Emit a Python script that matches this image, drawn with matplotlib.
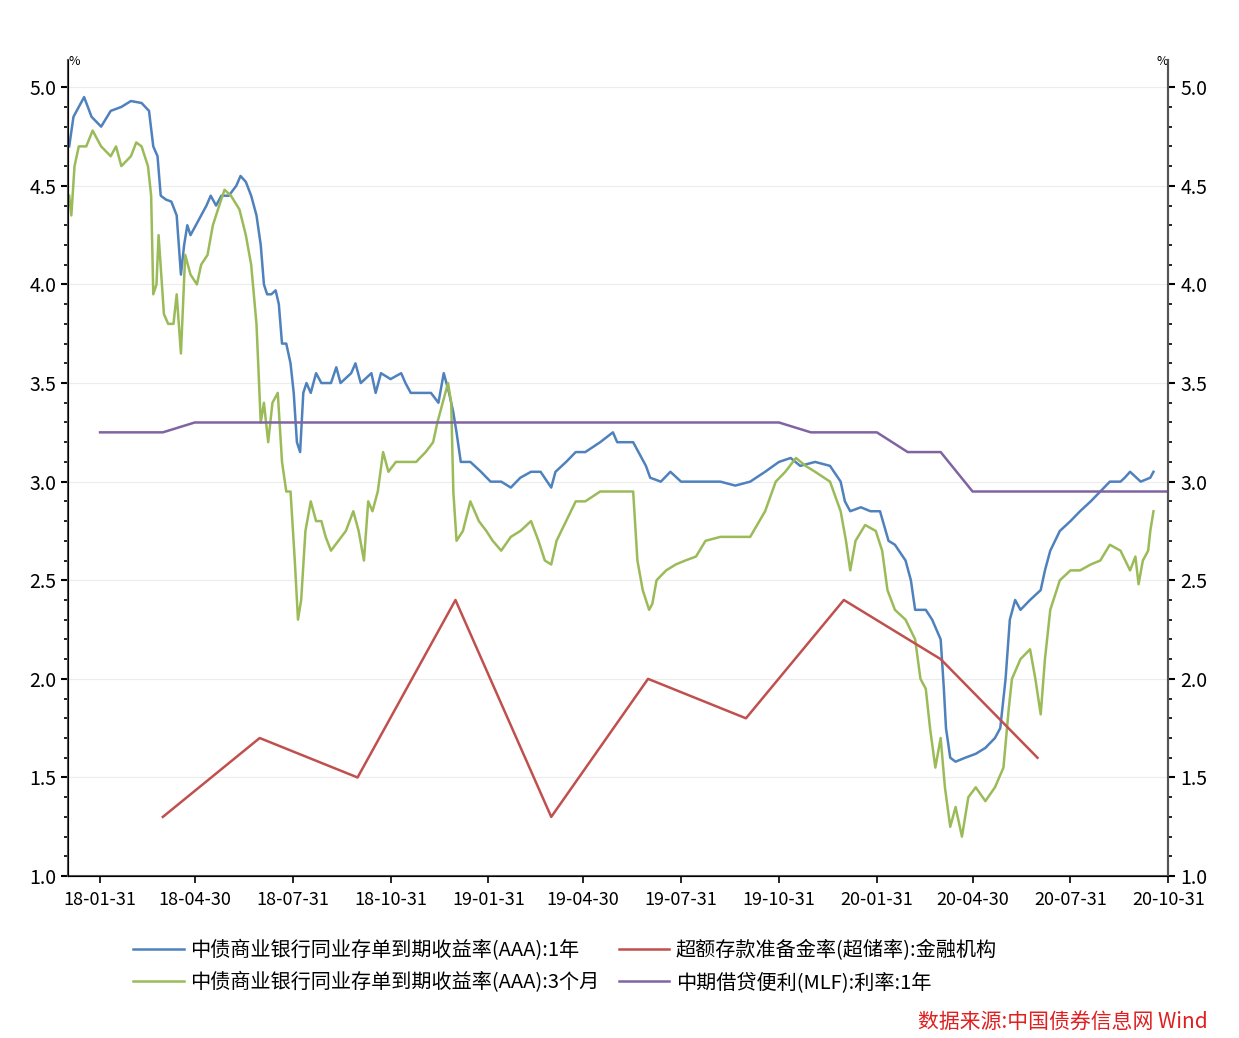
import matplotlib
matplotlib.use("Agg")
import matplotlib.pyplot as plt
import pandas as pd
import numpy as np

plt.rcParams['font.family'] = ['Noto Sans CJK SC', 'DejaVu Sans']

start = pd.Timestamp('2018-01-01')
blue_days = [1,5,10,15,22,31,40,50,59,69,76,80,84,87,92,97,102,106,109,112,115,120,125,130,134,139,144,151,158,162,167,172,177,181,184,187,191,195,198,201,205,209,212,215,218,221,224,228,233,238,247,252,256,266,270,275,285,289,294,303,313,317,322,331,341,348,353,358,362,365,369,378,388,397,407,416,425,435,444,454,458,468,477,486,500,512,516,524,531,536,543,547,557,566,576,594,613,627,641,655,668,679,688,702,716,726,730,735,745,754,763,771,777,787,792,796,806,812,820,823,825,829,834,843,853,862,871,876,881,885,890,895,904,914,918,923,932,942,951,961,970,979,989,993,998,1008,1017,1020]
blue_vals = [4.7,4.85,4.9,4.95,4.85,4.8,4.88,4.9,4.93,4.92,4.88,4.7,4.65,4.45,4.43,4.42,4.35,4.05,4.2,4.3,4.25,4.3,4.35,4.4,4.45,4.4,4.45,4.45,4.5,4.55,4.52,4.45,4.35,4.2,4.0,3.95,3.95,3.97,3.9,3.7,3.7,3.6,3.45,3.2,3.15,3.45,3.5,3.45,3.55,3.5,3.5,3.58,3.5,3.55,3.6,3.5,3.55,3.45,3.55,3.52,3.55,3.5,3.45,3.45,3.45,3.4,3.55,3.45,3.35,3.25,3.1,3.1,3.05,3.0,3.0,2.97,3.02,3.05,3.05,2.97,3.05,3.1,3.15,3.15,3.2,3.25,3.2,3.2,3.2,3.15,3.08,3.02,3.0,3.05,3.0,3.0,3.0,2.98,3.0,3.05,3.1,3.12,3.08,3.1,3.08,3.0,2.9,2.85,2.87,2.85,2.85,2.7,2.68,2.6,2.5,2.35,2.35,2.3,2.2,1.95,1.75,1.6,1.58,1.6,1.62,1.65,1.7,1.75,2.0,2.3,2.4,2.35,2.4,2.45,2.55,2.65,2.75,2.8,2.85,2.9,2.95,3.0,3.0,3.02,3.05,3.0,3.02,3.05]
green_days = [1,3,6,10,17,23,31,40,45,50,59,64,69,75,78,80,83,85,90,94,99,102,106,110,115,121,125,131,136,142,147,153,161,167,172,177,181,184,188,192,197,201,205,209,213,216,219,223,228,233,238,242,247,254,261,268,273,278,282,286,291,296,301,308,317,327,336,343,347,352,357,360,362,365,371,378,386,393,399,407,416,425,435,442,448,454,459,468,477,486,500,512,521,531,535,540,546,549,553,562,571,580,590,599,613,627,641,655,665,674,684,693,702,716,726,731,735,740,749,759,765,770,777,787,796,801,806,810,815,820,824,829,834,840,846,853,862,871,879,884,887,895,904,909,914,918,923,932,942,951,961,970,979,989,998,1003,1006,1010,1015,1017,1020]
green_vals = [4.45,4.35,4.6,4.7,4.7,4.78,4.7,4.65,4.7,4.6,4.65,4.72,4.7,4.6,4.45,3.95,4.0,4.25,3.85,3.8,3.8,3.95,3.65,4.15,4.05,4.0,4.1,4.15,4.3,4.4,4.48,4.45,4.38,4.25,4.1,3.8,3.3,3.4,3.2,3.4,3.45,3.1,2.95,2.95,2.6,2.3,2.4,2.75,2.9,2.8,2.8,2.72,2.65,2.7,2.75,2.85,2.75,2.6,2.9,2.85,2.95,3.15,3.05,3.1,3.1,3.1,3.15,3.2,3.3,3.4,3.5,3.4,2.95,2.7,2.75,2.9,2.8,2.75,2.7,2.65,2.72,2.75,2.8,2.7,2.6,2.58,2.7,2.8,2.9,2.9,2.95,2.95,2.95,2.95,2.6,2.45,2.35,2.38,2.5,2.55,2.58,2.6,2.62,2.7,2.72,2.72,2.72,2.85,3.0,3.05,3.12,3.08,3.05,3.0,2.85,2.7,2.55,2.7,2.78,2.75,2.65,2.45,2.35,2.3,2.2,2.0,1.95,1.75,1.55,1.7,1.45,1.25,1.35,1.2,1.4,1.45,1.38,1.45,1.55,1.85,2.0,2.1,2.15,2.0,1.82,2.1,2.35,2.5,2.55,2.55,2.58,2.6,2.68,2.65,2.55,2.62,2.48,2.6,2.65,2.75,2.85]
red_dates = ['2018-03-31','2018-06-30','2018-09-30','2018-12-31','2019-03-31','2019-06-30','2019-09-30','2019-12-31','2020-03-31','2020-06-30']
red_vals = [1.3,1.7,1.5,2.4,1.3,2.0,1.8,2.4,2.1,1.6]
mlf_dates = ['2018-01-31','2018-02-28','2018-03-31','2018-04-30','2018-06-30','2018-09-30','2018-12-31','2019-03-31','2019-06-30','2019-09-30','2019-10-31','2019-11-30','2019-12-31','2020-01-31','2020-02-29','2020-03-31','2020-04-30','2020-06-30','2020-08-31','2020-10-31']
mlf_vals = [3.25,3.25,3.25,3.30,3.30,3.30,3.30,3.30,3.30,3.30,3.30,3.25,3.25,3.25,3.15,3.15,2.95,2.95,2.95,2.95]

names = ['中债商业银行同业存单到期收益率(AAA):1年','超额存款准备金率(超储率):金融机构',
         '中债商业银行同业存单到期收益率(AAA):3个月','中期借贷便利(MLF):利率:1年']

fig = plt.figure(figsize=(12.39,10.38), dpi=100)
ax = fig.add_axes([0.055,0.156,0.888,0.786])
bd = [start+pd.Timedelta(days=d) for d in blue_days]
gd = [start+pd.Timedelta(days=d) for d in green_days]
l1, = ax.plot(bd, blue_vals, color='#4f81bd', lw=1.8)
l3, = ax.plot(gd, green_vals, color='#9bbb59', lw=1.8)
l2, = ax.plot(pd.to_datetime(red_dates), red_vals, color='#c0504d', lw=1.8)
l4, = ax.plot(pd.to_datetime(mlf_dates), mlf_vals, color='#8064a2', lw=1.8)

ax.set_xlim(pd.Timestamp('2018-01-01'), pd.Timestamp('2020-10-31'))
ax.set_ylim(1.0, 5.137)
ax.set_yticks(np.arange(1.0,5.01,0.5))
ax.set_yticks(np.arange(1.0,5.01,0.1), minor=True)
ax.yaxis.set_major_formatter(matplotlib.ticker.FormatStrFormatter('%.1f'))
ax.grid(axis='y', color='#ececec', lw=0.8)
xt = pd.to_datetime(['2018-01-31','2018-04-30','2018-07-31','2018-10-31','2019-01-31','2019-04-30','2019-07-31','2019-10-31','2020-01-31','2020-04-30','2020-07-31','2020-10-31'])
ax.set_xticks(xt)
ax.set_xticklabels([d.strftime('%y-%m-%d') for d in xt], fontsize=13)
ax.tick_params(axis='y', labelsize=14, length=5, width=1.5, direction='out')
ax.tick_params(axis='y', which='minor', length=3, width=1.2)
ax.tick_params(axis='x', length=5, width=1.2, pad=6)
ax.spines['top'].set_visible(False)
for s in ['left','right','bottom']:
    ax.spines[s].set_color('#555555'); ax.spines[s].set_linewidth(1.5)
ax2 = ax.twinx()
ax2.set_ylim(ax.get_ylim())
ax2.set_yticks(np.arange(1.0,5.01,0.5))
ax2.set_yticks(np.arange(1.0,5.01,0.1), minor=True)
ax2.yaxis.set_major_formatter(matplotlib.ticker.FormatStrFormatter('%.1f'))
ax2.tick_params(axis='y', labelsize=14, length=5, width=1.5)
ax2.tick_params(axis='y', which='minor', length=3, width=1.2)
ax2.spines['top'].set_visible(False)
ax2.spines['right'].set_color('#555555'); ax2.spines['right'].set_linewidth(1.5)
ax.text(0.0, 0.99, '%', transform=ax.transAxes, fontsize=9, ha='left', va='bottom')
ax.text(1.0, 0.99, '%', transform=ax.transAxes, fontsize=9, ha='right', va='bottom')

fig.legend([l1,l3,l2,l4], [names[0],names[2],names[1],names[3]], ncol=2, frameon=False,
           loc='upper left', bbox_to_anchor=(0.093,0.112), fontsize=14.5, handlelength=2.5,
           columnspacing=1.0, labelspacing=0.55, handletextpad=0.3)
fig.text(0.975, 0.005, '数据来源:中国债券信息网 Wind', color='#e02020', style='italic',
         fontsize=15, ha='right', va='bottom')
fig.savefig('out.png', dpi=100, facecolor='white')
